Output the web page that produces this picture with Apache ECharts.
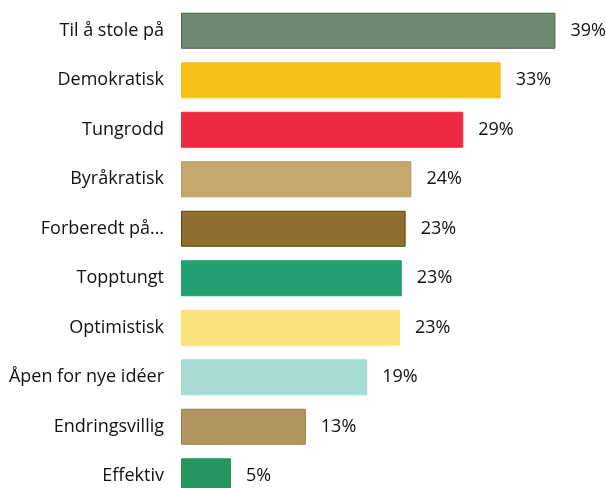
<!DOCTYPE html>
<html>
<head>
<meta charset="utf-8">
<script src="https://cdn.jsdelivr.net/npm/echarts@6/dist/echarts.min.js"></script>
<style>
  html, body { margin: 0; padding: 0; background: #fff; overflow: hidden; }
  /* the last bar is cut off by the bottom edge in the original */
  #chart { width: 606px; height: 510px; }
</style>
</head>
<body>
<div id="chart"></div>
<script>
// kategorier, ovenfra og ned
var categories = ['Til å stole på', 'Demokratisk', 'Tungrodd', 'Byråkratisk', 'Forberedt på…',
  'Topptungt', 'Optimistisk', 'Åpen for nye idéer', 'Endringsvillig', 'Effektiv'];
var values = [39, 33.3, 29.4, 24, 23.4, 23, 22.8, 19.4, 13, 5.2];
var colors = ['#6f8a70', '#f7c11a', '#ee2a42', '#c4a86c', '#8f6e2e',
  '#22a070', '#fce27a', '#a6dcd2', '#b09560', '#23975f'];
var borders = ['#4d5e50', '#f7c11a', '#ee2a42', '#b89a5e', '#5e4718',
  '#22a070', '#fce27a', '#a6dcd2', '#9a7f4c', '#23975f'];

var myChart = echarts.init(document.getElementById('chart'));
myChart.setOption({
  animation: false,
  grid: { left: 181, top: 6, width: 384, height: 495, containLabel: false },
  xAxis: {
    type: 'value', min: 0, max: 40, show: false
  },
  yAxis: {
    type: 'category',
    inverse: true,
    data: categories,
    axisLine: { show: false },
    axisTick: { show: false },
    axisLabel: {
      margin: 17,
      fontFamily: 'Open Sans',
      fontSize: 18,
      color: '#111'
    }
  },
  series: [{
    type: 'bar',
    barWidth: 36,
    data: values.map(function (v, i) {
      return {
        value: v,
        itemStyle: { color: colors[i], borderColor: borders[i], borderWidth: 1 }
      };
    }),
    label: {
      show: true,
      position: 'right',
      distance: 15,
      fontFamily: 'Open Sans',
      fontSize: 18,
      color: '#111',
      formatter: function (p) { return Math.round(p.value) + '%'; }
    }
  }]
});
</script>
</body>
</html>
